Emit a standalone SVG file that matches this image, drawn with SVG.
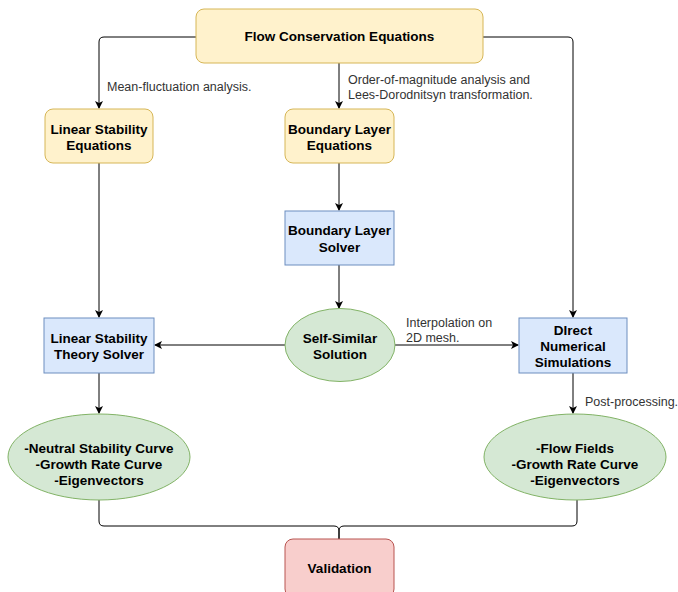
<svg xmlns="http://www.w3.org/2000/svg" width="678" height="592" viewBox="0 0 678 592">
<defs>
<marker id="arr" markerWidth="10" markerHeight="10" refX="7" refY="4" orient="auto" markerUnits="userSpaceOnUse">
<path d="M0,0 L8,4 L0,8 L2,4 Z" fill="#000"/>
</marker>
<style>
.y{fill:#fff2cc;stroke:#d6b656;stroke-width:1}
.b{fill:#dae8fc;stroke:#6c8ebf;stroke-width:1}
.g{fill:#d5e8d4;stroke:#82b366;stroke-width:1}
.r{fill:#f8cecc;stroke:#b85450;stroke-width:1}
.t{font-family:"Liberation Sans",Arial,sans-serif;font-size:13.5px;font-weight:bold;fill:#000;text-anchor:middle}
.l{font-family:"Liberation Sans",Arial,sans-serif;font-size:12.5px;fill:#333}
.c{fill:none;stroke:#000;stroke-width:1}
</style>
</defs>
<rect width="678" height="592" fill="#fff"/>
<g id="connectors">
<path class="c" d="M196,37 H104 Q99,37 99,42 V108" marker-end="url(#arr)"/>
<path class="c" d="M483,37 H568 Q573,37 573,42 V317" marker-end="url(#arr)"/>
<path class="c" d="M339,63 V108" marker-end="url(#arr)"/>
<path class="c" d="M339,163 V210" marker-end="url(#arr)"/>
<path class="c" d="M339,265 V308" marker-end="url(#arr)"/>
<path class="c" d="M99,163 V317" marker-end="url(#arr)"/>
<path class="c" d="M285,345 H155" marker-end="url(#arr)"/>
<path class="c" d="M395,345 H518" marker-end="url(#arr)"/>
<path class="c" d="M99,373 V413" marker-end="url(#arr)"/>
<path class="c" d="M573,373 V413" marker-end="url(#arr)"/>
<path class="c" d="M99,500 V521 Q99,526 104,526 H334 Q339,526 339,531 V539"/>
<path class="c" d="M577,500 V521 Q577,526 572,526 H344 Q339,526 339,531 V539"/>
<text class="l" x="107" y="91">Mean-fluctuation analysis.</text>
<text class="l" x="348" y="84">Order-of-magnitude analysis and</text>
<text class="l" x="348" y="99">Lees-Dorodnitsyn transformation.</text>
<text class="l" x="406" y="327">Interpolation on</text>
<text class="l" x="406" y="342">2D mesh.</text>
<text class="l" x="585" y="406">Post-processing.</text>
</g>
<g id="flow-conservation">
<rect class="y" x="196" y="9" width="287" height="54" rx="8"/>
<text class="t" x="339.5" y="41">Flow Conservation Equations</text>
</g>
<g id="linear-stability-equations">
<rect class="y" x="45" y="109" width="108" height="54" rx="8"/>
<text class="t" x="99" y="134">Linear Stability</text>
<text class="t" x="99" y="150">Equations</text>
</g>
<g id="boundary-layer-equations">
<rect class="y" x="285" y="109" width="109" height="54" rx="8"/>
<text class="t" x="339.5" y="134">Boundary Layer</text>
<text class="t" x="339.5" y="150">Equations</text>
</g>
<g id="boundary-layer-solver">
<rect class="b" x="285" y="211" width="109" height="54"/>
<text class="t" x="339.5" y="235">Boundary Layer</text>
<text class="t" x="339.5" y="252">Solver</text>
</g>
<g id="self-similar">
<ellipse class="g" cx="340" cy="345" rx="55" ry="36.5"/>
<text class="t" x="340" y="343">Self-Similar</text>
<text class="t" x="340" y="359">Solution</text>
</g>
<g id="lst-solver">
<rect class="b" x="44" y="318" width="110" height="55"/>
<text class="t" x="99" y="343">Linear Stability</text>
<text class="t" x="99" y="359">Theory Solver</text>
</g>
<g id="dns">
<rect class="b" x="519" y="318" width="108" height="55"/>
<text class="t" x="573" y="335">DIrect</text>
<text class="t" x="573" y="351">Numerical</text>
<text class="t" x="573" y="367">Simulations</text>
</g>
<g id="lst-results">
<ellipse class="g" cx="99" cy="457" rx="91" ry="43"/>
<text class="t" x="99" y="453">-Neutral Stability Curve</text>
<text class="t" x="99" y="469">-Growth Rate Curve</text>
<text class="t" x="99" y="485">-Eigenvectors</text>
</g>
<g id="dns-results">
<ellipse class="g" cx="575" cy="457" rx="91" ry="43"/>
<text class="t" x="575" y="453">-Flow Fields</text>
<text class="t" x="575" y="469">-Growth Rate Curve</text>
<text class="t" x="575" y="485">-Eigenvectors</text>
</g>
<g id="validation">
<rect class="r" x="285" y="539" width="109" height="58" rx="8"/>
<text class="t" x="339.5" y="573">Validation</text>
</g>
</svg>
